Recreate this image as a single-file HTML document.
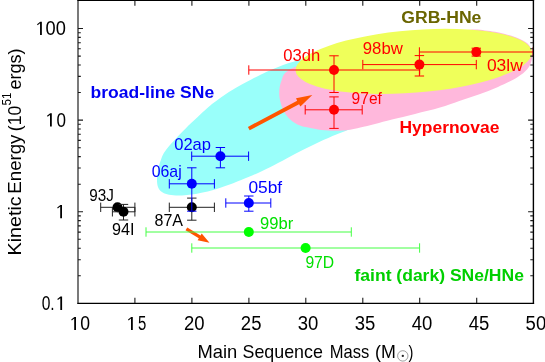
<!DOCTYPE html>
<html><head><meta charset="utf-8"><title>SNe</title>
<style>
html,body{margin:0;padding:0;background:#fff;}
body{width:545px;height:362px;overflow:hidden;}
svg{display:block;will-change:transform;}
text{font-family:"Liberation Sans",sans-serif;}
.b{font-weight:bold;}
</style></head><body>
<svg width="545" height="362" viewBox="0 0 545 362">
<rect width="545" height="362" fill="#fff"/>

<path d="M157.0,181.0 C156.9,178.4 157.1,175.4 157.7,172.1 C158.3,168.8 159.1,164.7 160.5,161.0 C161.9,157.3 162.2,155.0 166.0,150.0 C169.8,145.0 176.6,137.7 183.1,131.0 C189.6,124.3 199.5,115.2 205.2,110.0 C210.9,104.8 212.8,103.4 217.5,100.0 C222.2,96.6 228.3,92.5 233.1,89.6 C237.8,86.6 241.3,84.8 246.0,82.3 C250.7,79.8 256.8,76.5 261.0,74.4 C265.2,72.3 267.3,71.5 271.0,69.9 C274.7,68.3 279.2,66.3 283.1,64.9 C287.0,63.5 291.1,62.3 294.2,61.4 C297.3,60.5 296.0,60.4 302.0,59.4 C308.0,58.4 320.3,56.4 330.0,55.5 C339.7,54.6 350.8,53.6 360.0,54.0 C369.2,54.4 378.8,55.3 385.0,58.0 C391.2,60.7 395.0,65.3 397.0,70.0 C399.0,74.7 399.0,80.2 397.0,86.0 C395.0,91.8 390.7,99.0 385.0,105.0 C379.3,111.0 369.2,117.8 363.0,122.0 C356.8,126.2 352.3,127.8 347.9,129.9 C343.4,132.0 341.0,132.5 336.3,134.5 C331.6,136.5 325.2,139.2 319.7,141.8 C314.2,144.4 308.7,147.0 303.2,149.8 C297.7,152.6 292.1,155.7 286.6,158.6 C281.1,161.5 276.1,164.2 270.0,167.2 C263.9,170.2 255.8,173.9 249.7,176.6 C243.6,179.3 238.7,181.1 233.2,183.2 C227.7,185.3 221.3,187.5 216.6,189.0 C211.9,190.5 208.7,191.3 205.2,192.1 C201.7,192.9 198.8,193.4 195.8,193.9 C192.8,194.4 190.3,194.6 187.0,194.9 C183.7,195.2 179.2,195.6 175.9,195.5 C172.6,195.4 169.5,194.9 167.1,194.3 C164.7,193.7 163.1,192.9 161.6,191.8 C160.1,190.7 159.1,189.5 158.3,187.7 C157.5,185.9 157.1,183.6 157.0,181.0 Z" fill="#99fffa"/>
<path d="M279.2,92.5 C279.3,88.8 279.9,84.2 281.5,80.5 C283.1,76.8 282.6,73.8 289.0,70.0 C295.4,66.2 304.8,62.7 320.0,58.0 C335.2,53.3 360.0,46.2 380.0,42.0 C400.0,37.8 425.0,34.5 440.0,32.5 C455.0,30.4 462.5,30.1 470.0,29.7 C477.5,29.3 480.8,30.0 485.0,30.4 C489.2,30.8 491.7,31.2 495.0,31.8 C498.3,32.4 501.7,33.0 505.0,33.9 C508.3,34.8 511.7,35.6 515.0,36.9 C518.3,38.2 522.6,40.2 525.0,41.7 C527.4,43.2 528.1,43.6 529.3,45.6 C530.5,47.6 531.9,50.6 532.2,53.5 C532.5,56.4 531.8,60.0 530.9,62.7 C530.0,65.4 529.2,67.1 527.0,69.5 C524.8,71.9 522.2,74.3 517.4,77.2 C512.6,80.1 504.4,84.0 498.0,86.9 C491.6,89.8 485.1,92.2 478.7,94.6 C472.2,96.9 465.8,98.8 459.3,101.0 C452.9,103.2 447.4,105.4 440.0,107.6 C432.6,109.8 423.0,112.0 415.0,114.0 C407.0,116.0 398.7,117.9 392.0,119.6 C385.3,121.3 380.3,122.7 375.0,124.0 C369.7,125.3 364.5,126.6 360.3,127.6 C356.1,128.6 353.4,129.3 350.0,129.8 C346.6,130.3 344.2,130.7 340.0,130.8 C335.8,130.9 329.8,130.7 325.0,130.3 C320.2,129.9 315.6,129.0 311.4,128.2 C307.2,127.4 303.5,127.0 300.0,125.6 C296.5,124.2 293.1,122.1 290.5,119.8 C287.9,117.5 285.8,114.6 284.1,111.7 C282.5,108.8 281.4,105.7 280.6,102.5 C279.8,99.3 279.1,96.2 279.2,92.5 Z" fill="#ffb8dc"/>
<ellipse cx="413.8" cy="61.4" rx="118.6" ry="31.3" transform="rotate(-4.5 413.8 61.4)" fill="#efff5a"/>
<polygon points="249.7,130.3 299.1,104.2 300.4,106.6 312.3,95.0 296.0,98.3 297.2,100.8 247.9,126.9" fill="#ff5500"/>
<polygon points="185.5,230.3 198.8,238.3 197.6,240.3 209.5,242.8 201.7,233.4 200.5,235.5 187.3,227.5" fill="#ff5500"/>
<g stroke="#222" stroke-width="1.00" fill="none"><path d="M100.7,207.3 H134.9 M100.7,202.6 V212.0 M134.9,202.6 V212.0"/></g><circle cx="117.5" cy="207.3" r="5.0" fill="#000"/>
<g stroke="#222" stroke-width="1.00" fill="none"><path d="M112.4,211.8 H134.9 M112.4,207.1 V216.5 M134.9,207.1 V216.5"/><path d="M123.5,204.4 V220.0 M118.8,204.4 H128.2 M118.8,220.0 H128.2"/></g><circle cx="123.5" cy="211.8" r="5.0" fill="#000"/>
<g stroke="#222" stroke-width="1.00" fill="none"><path d="M169.3,207.3 H214.4 M169.3,202.6 V212.0 M214.4,202.6 V212.0"/><path d="M191.8,198.1 V220.2 M187.1,198.1 H196.5 M187.1,220.2 H196.5"/></g><circle cx="191.8" cy="207.3" r="5.0" fill="#000"/>
<g stroke="#0000ff" stroke-width="1.00" fill="none"><path d="M169.3,183.8 H214.4 M169.3,179.1 V188.5 M214.4,179.1 V188.5"/><path d="M191.8,167.8 V211.2 M187.1,167.8 H196.5 M187.1,211.2 H196.5"/></g><circle cx="191.8" cy="183.8" r="5.0" fill="#0000ff"/>
<g stroke="#0000ff" stroke-width="1.00" fill="none"><path d="M191.7,156.2 H248.6 M191.7,151.5 V160.9 M248.6,151.5 V160.9"/><path d="M220.4,147.5 V167.8 M215.7,147.5 H225.1 M215.7,167.8 H225.1"/></g><circle cx="220.4" cy="156.2" r="5.0" fill="#0000ff"/>
<g stroke="#0000ff" stroke-width="1.00" fill="none"><path d="M225.8,203.0 H270.8 M225.8,198.3 V207.7 M270.8,198.3 V207.7"/><path d="M248.8,196.0 V211.2 M244.1,196.0 H253.5 M244.1,211.2 H253.5"/></g><circle cx="248.8" cy="203.0" r="5.0" fill="#0000ff"/>
<g stroke="#44ff44" stroke-width="1.00" fill="none"><path d="M146.0,232.0 H351.3 M146.0,227.3 V236.7 M351.3,227.3 V236.7"/></g><circle cx="248.8" cy="232.0" r="5.0" fill="#00ff00"/>
<g stroke="#44ff44" stroke-width="1.00" fill="none"><path d="M191.8,248.0 H419.6 M191.8,243.3 V252.7 M419.6,243.3 V252.7"/></g><circle cx="305.6" cy="248.0" r="5.0" fill="#00ff00"/>
<g stroke="#ff0000" stroke-width="1.00" fill="none"><path d="M248.8,70.0 H419.7 M248.8,65.3 V74.7 M419.7,65.3 V74.7"/><path d="M334.0,55.8 V92.5 M329.3,55.8 H338.7 M329.3,92.5 H338.7"/></g><circle cx="334.0" cy="70.0" r="5.0" fill="#ff0000"/>
<g stroke="#ff0000" stroke-width="1.00" fill="none"><path d="M305.2,109.8 H362.2 M305.2,105.1 V114.5 M362.2,105.1 V114.5"/><path d="M334.0,96.9 V128.4 M329.3,96.9 H338.7 M329.3,128.4 H338.7"/></g><circle cx="334.0" cy="109.8" r="5.0" fill="#ff0000"/>
<g stroke="#ff0000" stroke-width="1.00" fill="none"><path d="M362.8,64.6 H476.3 M362.8,59.9 V69.3 M476.3,59.9 V69.3"/><path d="M419.4,55.6 V76.0 M414.7,55.6 H424.1 M414.7,76.0 H424.1"/></g><circle cx="419.4" cy="64.6" r="5.0" fill="#ff0000"/>
<g stroke="#ff0000" stroke-width="1.00" fill="none"><path d="M419.4,52.0 H533.0 M419.4,47.3 V56.7 M533.0,47.3 V56.7"/><path d="M476.3,48.2 V56.1 M471.6,48.2 H481.0 M471.6,56.1 H481.0"/></g><circle cx="476.3" cy="52.0" r="5.0" fill="#ff0000"/>
<g stroke="#000" fill="none">
<path d="M78.0,0 V303.9" stroke-width="1.05"/>
<path d="M77.4,303.3 H534.1" stroke-width="1.2"/>
<path d="M533.4,0 V303.9" stroke-width="1.4"/>
<path d="M77.4,0.5 H534.1" stroke-width="1.1"/>
</g>
<g stroke="#1a1a1a" stroke-width="1.1" fill="none">
<path d="M134.9,303.0 v-5.2 M134.9,0.6 v5.2 M191.9,303.0 v-5.2 M191.9,0.6 v5.2 M248.9,303.0 v-5.2 M248.9,0.6 v5.2 M305.8,303.0 v-5.2 M305.8,0.6 v5.2 M362.8,303.0 v-5.2 M362.8,0.6 v5.2 M419.7,303.0 v-5.2 M419.7,0.6 v5.2 M476.7,303.0 v-5.2 M476.7,0.6 v5.2 M78.0,275.8 h2.8 M533.1,275.8 h-2.8 M78.0,259.7 h2.8 M533.1,259.7 h-2.8 M78.0,248.2 h2.8 M533.1,248.2 h-2.8 M78.0,239.3 h2.8 M533.1,239.3 h-2.8 M78.0,232.1 h2.8 M533.1,232.1 h-2.8 M78.0,225.9 h2.8 M533.1,225.9 h-2.8 M78.0,220.6 h2.8 M533.1,220.6 h-2.8 M78.0,215.9 h2.8 M533.1,215.9 h-2.8 M78.0,211.8 h5.0 M533.1,211.8 h-5.0 M78.0,184.2 h2.8 M533.1,184.2 h-2.8 M78.0,168.0 h2.8 M533.1,168.0 h-2.8 M78.0,156.6 h2.8 M533.1,156.6 h-2.8 M78.0,147.7 h2.8 M533.1,147.7 h-2.8 M78.0,140.4 h2.8 M533.1,140.4 h-2.8 M78.0,134.3 h2.8 M533.1,134.3 h-2.8 M78.0,129.0 h2.8 M533.1,129.0 h-2.8 M78.0,124.3 h2.8 M533.1,124.3 h-2.8 M78.0,120.1 h5.0 M533.1,120.1 h-5.0 M78.0,92.5 h2.8 M533.1,92.5 h-2.8 M78.0,76.4 h2.8 M533.1,76.4 h-2.8 M78.0,65.0 h2.8 M533.1,65.0 h-2.8 M78.0,56.1 h2.8 M533.1,56.1 h-2.8 M78.0,48.8 h2.8 M533.1,48.8 h-2.8 M78.0,42.7 h2.8 M533.1,42.7 h-2.8 M78.0,37.4 h2.8 M533.1,37.4 h-2.8 M78.0,32.7 h2.8 M533.1,32.7 h-2.8 M78.0,28.5 h5.0 M533.1,28.5 h-5.0 "/>
</g>
<text x="183.90" y="330.10" font-size="19.40" fill="#000" textLength="20.61" lengthAdjust="spacingAndGlyphs">20</text>
<text x="240.85" y="330.10" font-size="19.40" fill="#000" textLength="20.61" lengthAdjust="spacingAndGlyphs">25</text>
<text x="297.80" y="330.10" font-size="19.40" fill="#000" textLength="20.61" lengthAdjust="spacingAndGlyphs">30</text>
<text x="354.75" y="330.10" font-size="19.40" fill="#000" textLength="20.61" lengthAdjust="spacingAndGlyphs">35</text>
<text x="411.70" y="330.10" font-size="19.40" fill="#000" textLength="20.61" lengthAdjust="spacingAndGlyphs">40</text>
<text x="468.65" y="330.10" font-size="19.40" fill="#000" textLength="20.61" lengthAdjust="spacingAndGlyphs">45</text>
<text x="525.60" y="330.10" font-size="19.40" fill="#000" textLength="20.61" lengthAdjust="spacingAndGlyphs">50</text>
<path d="M76.00,316.90 L76.00,330.00 L74.20,330.00 L74.20,318.50 L71.80,320.40 L71.20,319.40 L74.40,316.90 Z" fill="#000"/>
<text x="80.30" y="330.10" font-size="19.40" fill="#000" textLength="9.80" lengthAdjust="spacingAndGlyphs">0</text>
<path d="M132.80,316.90 L132.80,330.00 L131.00,330.00 L131.00,318.50 L128.60,320.40 L128.00,319.40 L131.20,316.90 Z" fill="#000"/>
<text x="138.00" y="330.10" font-size="19.40" fill="#000" textLength="8.30" lengthAdjust="spacingAndGlyphs">5</text>
<path d="M41.85,21.69 L41.85,34.99 L40.05,34.99 L40.05,23.29 L37.65,25.19 L37.05,24.19 L40.25,21.69 Z" fill="#000"/>
<text x="45.60" y="35.09" font-size="19.40" fill="#000" textLength="20.31" lengthAdjust="spacingAndGlyphs">00</text>
<path d="M51.80,113.32 L51.80,126.62 L50.00,126.62 L50.00,114.92 L47.60,116.82 L47.00,115.82 L50.20,113.32 Z" fill="#000"/>
<text x="56.40" y="126.72" font-size="19.40" fill="#000" textLength="9.50" lengthAdjust="spacingAndGlyphs">0</text>
<path d="M62.00,204.95 L62.00,218.25 L60.20,218.25 L60.20,206.55 L57.80,208.45 L57.20,207.45 L60.40,204.95 Z" fill="#000"/>
<path d="M62.10,296.58 L62.10,309.88 L60.30,309.88 L60.30,298.18 L57.90,300.08 L57.30,299.08 L60.50,296.58 Z" fill="#000"/>
<text x="41.70" y="309.98" font-size="19.40" fill="#000" textLength="13.00" lengthAdjust="spacingAndGlyphs">0.</text>
<text x="197.50" y="357.70" font-size="18.20" fill="#000" textLength="39.79" lengthAdjust="spacingAndGlyphs">Main</text>
<text x="242.50" y="357.70" font-size="18.20" fill="#000" textLength="80.40" lengthAdjust="spacingAndGlyphs">Sequence</text>
<text x="329.70" y="357.70" font-size="18.20" fill="#000" textLength="39.50" lengthAdjust="spacingAndGlyphs">Mass</text>
<text x="375.10" y="357.70" font-size="18.20" fill="#000" textLength="20.80" lengthAdjust="spacingAndGlyphs">(M</text>
<text x="408.60" y="357.70" font-size="18.20" fill="#000" textLength="4.90" lengthAdjust="spacingAndGlyphs">)</text>
<circle cx="402.8" cy="355.9" r="5.2" fill="none" stroke="#777" stroke-width="0.7"/><circle cx="402.8" cy="355.9" r="1.15" fill="#222"/>
<g transform="translate(21.2,0) rotate(-90)">
<text x="-255.40" y="0.00" font-size="18.20" fill="#000" textLength="59.11" lengthAdjust="spacingAndGlyphs">Kinetic</text>
<text x="-193.70" y="0.00" font-size="18.20" fill="#000" textLength="59.11" lengthAdjust="spacingAndGlyphs">Energy</text>
<text x="-131.20" y="0.00" font-size="18.20" fill="#000" textLength="25.41" lengthAdjust="spacingAndGlyphs">(10</text>
<text x="-105.40" y="-10.30" font-size="13.50" fill="#000" textLength="12.80" lengthAdjust="spacingAndGlyphs">51</text>
<text x="-89.60" y="0.00" font-size="18.20" fill="#000" textLength="41.21" lengthAdjust="spacingAndGlyphs">ergs)</text>
</g>
<text x="90.60" y="98.00" font-size="17.20" fill="#0000f2" textLength="123.59" lengthAdjust="spacingAndGlyphs" class="b">broad-line SNe</text>
<text x="401.30" y="23.10" font-size="17.20" fill="#6a6500" textLength="80.09" lengthAdjust="spacingAndGlyphs" class="b">GRB-HNe</text>
<text x="399.50" y="133.10" font-size="17.20" fill="#ff0000" textLength="99.89" lengthAdjust="spacingAndGlyphs" class="b">Hypernovae</text>
<text x="354.50" y="281.10" font-size="17.20" fill="#00cf00" textLength="169.39" lengthAdjust="spacingAndGlyphs" class="b">faint (dark) SNe/HNe</text>
<text x="283.20" y="60.70" font-size="16.20" fill="#ff0000" textLength="36.99" lengthAdjust="spacingAndGlyphs">03dh</text>
<text x="362.80" y="54.30" font-size="16.20" fill="#ff0000" textLength="40.06" lengthAdjust="spacingAndGlyphs">98bw</text>
<text x="486.90" y="70.60" font-size="16.20" fill="#ff0000" textLength="35.86" lengthAdjust="spacingAndGlyphs">03lw</text>
<text x="351.60" y="104.30" font-size="16.20" fill="#ff0000" textLength="30.27" lengthAdjust="spacingAndGlyphs">97ef</text>
<text x="174.20" y="149.60" font-size="16.20" fill="#0000ff" textLength="36.79" lengthAdjust="spacingAndGlyphs">02ap</text>
<text x="151.70" y="176.50" font-size="16.20" fill="#0000ff" textLength="29.99" lengthAdjust="spacingAndGlyphs">06aj</text>
<text x="248.40" y="193.20" font-size="16.20" fill="#0000ff" textLength="33.77" lengthAdjust="spacingAndGlyphs">05bf</text>
<text x="89.30" y="201.20" font-size="16.20" fill="#000" textLength="24.60" lengthAdjust="spacingAndGlyphs">93J</text>
<text x="111.90" y="235.20" font-size="16.20" fill="#000" textLength="22.50" lengthAdjust="spacingAndGlyphs">94I</text>
<text x="154.50" y="225.70" font-size="16.20" fill="#000" textLength="28.51" lengthAdjust="spacingAndGlyphs">87A</text>
<text x="260.10" y="229.20" font-size="16.20" fill="#00e000" textLength="33.21" lengthAdjust="spacingAndGlyphs">99br</text>
<text x="305.40" y="267.90" font-size="16.20" fill="#00e000" textLength="28.81" lengthAdjust="spacingAndGlyphs">97D</text>
</svg></body></html>
